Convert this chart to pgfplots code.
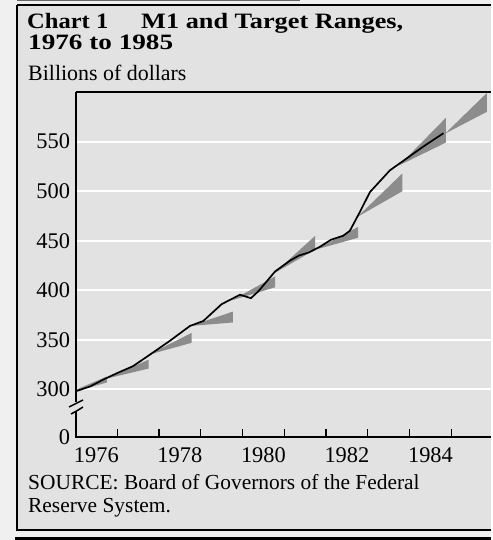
\documentclass[border=0pt]{standalone}
\usepackage{fontspec}
\setmainfont{Liberation Serif}
\usepackage{pgfplots}
\pgfplotsset{compat=1.18}
\definecolor{bgin}{RGB}{226,226,226}
\definecolor{bgout}{RGB}{240,240,240}
\definecolor{cone}{RGB}{140,140,140}
\begin{document}
\begin{tikzpicture}[x=1bp,y=1bp]
\fill[bgout] (0,0) rectangle (491,540);
\fill[bgin] (17,10) rectangle (491,535);
\draw[line width=2bp] (17,535) -- (491,535);
\draw[line width=2bp] (17,535) -- (17,10) -- (491,10);
\draw[line width=3bp] (15,1.5) -- (491,1.5);
\draw[line width=1bp, black!60] (17,539.5) -- (300,539.5);
\useasboundingbox (0,0) rectangle (491,540);
% titles
\node[anchor=base west, inner sep=0, font=\bfseries\fontsize{22}{22}\selectfont] at (27,511) {\scalebox{1.12}[1]{Chart 1}};
\node[anchor=base west, inner sep=0, font=\bfseries\fontsize{22}{22}\selectfont] at (141,511) {\scalebox{1.2}[1]{M1 and Target Ranges,}};
\node[anchor=base west, inner sep=0, font=\bfseries\fontsize{22}{22}\selectfont] at (28,490.5) {\scalebox{1.24}[1]{1976 to 1985}};
\node[anchor=base west, inner sep=0, font=\fontsize{22}{22}\selectfont] at (28,459) {Billions of dollars};
\node[anchor=base west, inner sep=0, font=\fontsize{21.5}{21.5}\selectfont] at (28,50) {SOURCE: Board of Governors of the Federal};
\node[anchor=base west, inner sep=0, font=\fontsize{21.5}{21.5}\selectfont] at (28,27.5) {Reserve System.};
\begin{axis}[
  at={(75.5bp,103bp)}, anchor=south west, scale only axis,
  width=415.5bp, height=345bp,
  xmin=1976, xmax=1985.95, ymin=252, ymax=600,
  axis line style={draw=none},
  clip=true,
  ytick={300,350,400,450,500,550},
  yticklabels={300,350,400,450,500,550},
  ymajorgrids, major grid style={white, line width=2bp},
  ytick style={draw=none},
  extra y ticks={252}, extra y tick labels={0},
  extra y tick style={grid=none, major tick length=0pt},
  xtick={1977,1978,1979,1980,1981,1982,1983,1984,1985},
  xticklabels={},
  xtick pos=bottom,
  xtick style={black, line width=1.2bp},
  tick align=inside, major tick length=8bp,
  extra x ticks={1976.5,1978.5,1980.5,1982.5,1984.5},
  extra x tick labels={1976,1978,1980,1982,1984},
  extra x tick style={major tick length=0pt, xmajorgrids=false},
  tick label style={font=\fontsize{22.5}{22.5}\selectfont},
  /pgf/number format/assume math mode=true,
  yticklabel style={anchor=east, xshift=-2bp},
  xticklabel style={anchor=base, yshift=-26bp},
]
% target cones
\addplot[fill=cone, draw=none] coordinates {(1975.75,295) (1976.75,313) (1976.75,307)} -- cycle;
\addplot[fill=cone, draw=none] coordinates {(1976.75,311) (1977.75,330) (1977.75,321)} -- cycle;
\addplot[fill=cone, draw=none] coordinates {(1977.75,335) (1978.78,357) (1978.78,347)} -- cycle;
\addplot[fill=cone, draw=none] coordinates {(1978.75,364) (1979.77,378.5) (1979.77,367.5)} -- cycle;
\addplot[fill=cone, draw=none] coordinates {(1979.75,390) (1980.78,414) (1980.78,403)} -- cycle;
\addplot[fill=cone, draw=none] coordinates {(1980.75,417) (1981.74,455) (1981.74,441)} -- cycle;
\addplot[fill=cone, draw=none] coordinates {(1981.75,441) (1982.77,464) (1982.77,453)} -- cycle;
\addplot[fill=cone, draw=none] coordinates {(1982.75,474) (1983.83,518) (1983.83,500)} -- cycle;
\addplot[fill=cone, draw=none] coordinates {(1983.75,526) (1984.87,574) (1984.87,549)} -- cycle;
\addplot[fill=cone, draw=none] coordinates {(1984.85,558) (1985.85,599) (1985.85,580)} -- cycle;
% M1
\addplot[black, line width=1.7bp] coordinates {
(1976.00,298) (1976.35,303) (1976.67,310) (1977.00,316.5) (1977.38,323.5)
(1977.78,335) (1978.26,349) (1978.74,364) (1979.06,369) (1979.50,386)
(1979.94,395.5) (1980.20,392) (1980.38,399) (1980.78,419) (1981.14,430)
(1981.35,435) (1981.58,438) (1981.86,444) (1982.12,451) (1982.41,455)
(1982.57,460) (1982.81,479) (1983.05,499) (1983.53,521) (1983.93,533)
(1984.33,545) (1984.81,558.4)};
\end{axis}
% axis frame lines
\draw[line width=2bp] (76,448) -- (491,448);
\draw[line width=2bp] (75.5,448) -- (75.5,138);
\draw[line width=2bp] (75.5,129) -- (75.5,102);
\draw[line width=2bp] (75.5,103) -- (491,103);
\draw[line width=1.5bp] (69,133) -- (83,140);
\draw[line width=1.5bp] (71,126) .. controls (75,128) .. (83,133);
\end{tikzpicture}
\end{document}
